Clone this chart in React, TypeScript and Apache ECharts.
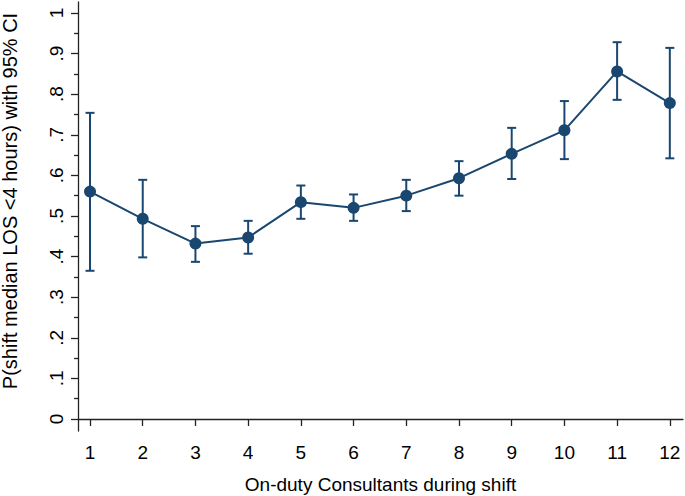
import React, { useEffect, useRef } from "react";
import * as echarts from "echarts";

const consultants = [1, 2, 3, 4, 5, 6, 7, 8, 9, 10, 11, 12];
const estimate = [0.56, 0.493, 0.432, 0.447, 0.534, 0.52, 0.55, 0.593, 0.653, 0.711, 0.856, 0.778];
const ciLower = [0.365, 0.398, 0.387, 0.407, 0.493, 0.488, 0.512, 0.55, 0.591, 0.64, 0.786, 0.642];
const ciUpper = [0.754, 0.589, 0.475, 0.488, 0.575, 0.553, 0.589, 0.635, 0.717, 0.783, 0.928, 0.914];
const yMajorTicks = [0, 0.1, 0.2, 0.3, 0.4, 0.5, 0.6, 0.7, 0.8, 0.9, 1];
const yMinorTicks = [0.05, 0.15, 0.25, 0.35, 0.45, 0.55, 0.65, 0.75, 0.85, 0.95];
const yTitle = "P(shift median LOS <4 hours) with 95% CI";
const xTitle = "On-duty Consultants during shift";

const COLOR = "#1a476f";
const AXIS = "#222";
const FONT = "Liberation Sans, Arial, sans-serif";
const FS = 19;

const fmtY = (v: number) => {
  const r = Math.round(v * 10) / 10;
  if (r === 0) return "0";
  if (r === 1) return "1";
  return "." + Math.round(r * 10);
};

export default function App() {
  const ref = useRef<HTMLDivElement>(null);
  useEffect(() => {
    if (!ref.current) return;
    const chart = echarts.init(ref.current, undefined, { renderer: "svg" });
    const yMin = -0.0296;
    const yMax = 1.027;
    chart.setOption({
      animation: false,
      backgroundColor: "#fff",
      grid: { left: 78, right: 2, top: 2, bottom: 65, containLabel: false, outerBoundsMode: "none" },
      graphic: [
        {
          type: "text",
          x: 10,
          y: 201,
          rotation: Math.PI / 2,
          style: {
            text: yTitle,
            fontFamily: FONT,
            fontSize: 20,
            fill: "#000",
            align: "center",
            verticalAlign: "middle",
          },
        },
      ],
      xAxis: {
        type: "value",
        min: 0.772,
        max: 12.25,
        name: xTitle,
        nameLocation: "middle",
        nameGap: 44,
        nameTextStyle: { fontFamily: FONT, fontSize: FS, color: "#000" },
        axisLine: { show: true, lineStyle: { color: AXIS, width: 1.3 } },
        axisTick: { show: true, length: 7, customValues: consultants, lineStyle: { color: AXIS, width: 1.3 } },
        axisLabel: {
          customValues: consultants,
          fontFamily: FONT,
          fontSize: FS,
          color: "#000",
          margin: 12,
        },
        splitLine: { show: false },
      },
      yAxis: [
        {
          type: "value",
          min: yMin,
          max: yMax,
          axisLine: { show: true, lineStyle: { color: AXIS, width: 1.3 } },
          axisTick: { show: true, length: 7, customValues: yMajorTicks, lineStyle: { color: AXIS, width: 1.3 } },
          axisLabel: {
            customValues: yMajorTicks,
            rotate: 90,
            formatter: fmtY,
            fontFamily: FONT,
            fontSize: FS,
            color: "#000",
            margin: 12,
          },
          splitLine: { show: false },
        },
        {
          type: "value",
          min: yMin,
          max: yMax,
          position: "left",
          axisLine: { show: false },
          axisTick: { show: true, length: 4, customValues: yMinorTicks, lineStyle: { color: AXIS, width: 1.3 } },
          axisLabel: { show: false },
          splitLine: { show: false },
        },
      ],
      series: [
        {
          type: "custom",
          renderItem: (params: any, api: any) => {
            const x = api.value(0);
            const lo = api.coord([x, api.value(1)]);
            const hi = api.coord([x, api.value(2)]);
            const cap = 4.5;
            const style = { stroke: COLOR, lineWidth: 2 };
            return {
              type: "group",
              children: [
                { type: "line", shape: { x1: lo[0], y1: lo[1], x2: hi[0], y2: hi[1] }, style },
                { type: "line", shape: { x1: lo[0] - cap, y1: lo[1], x2: lo[0] + cap, y2: lo[1] }, style },
                { type: "line", shape: { x1: hi[0] - cap, y1: hi[1], x2: hi[0] + cap, y2: hi[1] }, style },
              ],
            };
          },
          data: consultants.map((c, i) => [c, ciLower[i], ciUpper[i]]),
          z: 2,
        },
        {
          type: "line",
          data: consultants.map((c, i) => [c, estimate[i]]),
          symbol: "circle",
          symbolSize: 12,
          lineStyle: { color: COLOR, width: 2 },
          itemStyle: { color: COLOR },
          z: 3,
        },
      ],
    });
    return () => chart.dispose();
  }, []);
  return (
    <div
      ref={ref}
      style={{ position: "fixed", left: 0, top: 0, width: 685, height: 496 }}
    />
  );
}
